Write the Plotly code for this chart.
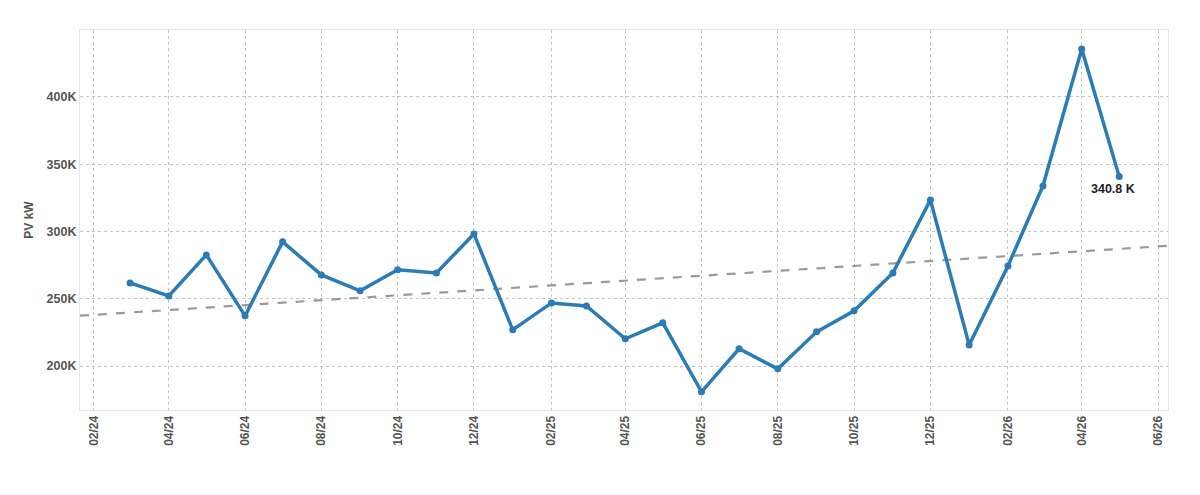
import plotly.graph_objects as go
import pandas as pd

months = pd.date_range("2024-03-01", "2026-05-01", freq="MS")
pv_kw = [261800, 252100, 282600, 237300, 292300, 267700, 255900, 271500, 269200, 298200,
         226900, 246900, 244700, 220200, 232100, 180800, 212800, 197900, 225400, 241000,
         269200, 323500, 215700, 274400, 333900, 435700, 340800]
trend_x = ["2024-01-21", "2026-06-09"]
trend_y = [237400, 289400]
tick_dates = pd.date_range("2024-02-01", "2026-06-01", freq="2MS")
tick_text = [d.strftime("%m/%y") for d in tick_dates]
y_ticks = [200000, 250000, 300000, 350000, 400000]
y_text = ["200K", "250K", "300K", "350K", "400K"]

fig = go.Figure()
fig.add_trace(go.Scatter(x=trend_x, y=trend_y, mode="lines",
                         line=dict(color="#9a9a9a", width=2.2, dash="dash"),
                         hoverinfo="skip", showlegend=False))
fig.add_trace(go.Scatter(x=months, y=pv_kw, mode="lines+markers",
                         line=dict(color="#2a7bb6", width=3.5),
                         marker=dict(color="#2a7bb6", size=7), showlegend=False))
fig.add_annotation(x=months[-1], y=pv_kw[-1], text=f"<b>{pv_kw[-1]/1000:.1f} K</b>",
                   showarrow=False, xanchor="center", yanchor="top", xshift=-6, yshift=-3,
                   font=dict(size=12.5, color="#222222", family="Liberation Sans, Arial"))

fig.update_layout(
    width=1200, height=495,
    margin=dict(l=80, r=32, t=30, b=85),
    paper_bgcolor="white", plot_bgcolor="white",
    font=dict(family="Liberation Sans, Arial", color="#555555"),
    xaxis=dict(range=["2024-01-21", "2026-06-09"], tickvals=list(tick_dates), ticktext=tick_text,
               tickangle=-90,
               tickfont=dict(size=12, color="#555555", family="Liberation Sans, Arial", weight="bold"),
               showgrid=True, gridcolor="#c4c4c4", griddash="dot", gridwidth=1,
               showline=True, linecolor="#e6e6e6", linewidth=1, mirror=True,
               ticks="", zeroline=False),
    yaxis=dict(range=[167300, 449800], tickvals=y_ticks, ticktext=y_text,
               tickfont=dict(size=12.5, color="#555555", family="Liberation Sans, Arial", weight="bold"),
               title=dict(text="<b>PV kW</b>", font=dict(size=12, color="#555555"), standoff=10),
               showgrid=True, gridcolor="#c4c4c4", griddash="dot", gridwidth=1,
               showline=True, linecolor="#e6e6e6", linewidth=1, mirror=True,
               ticks="", zeroline=False),
)
fig.write_html("out.html")
